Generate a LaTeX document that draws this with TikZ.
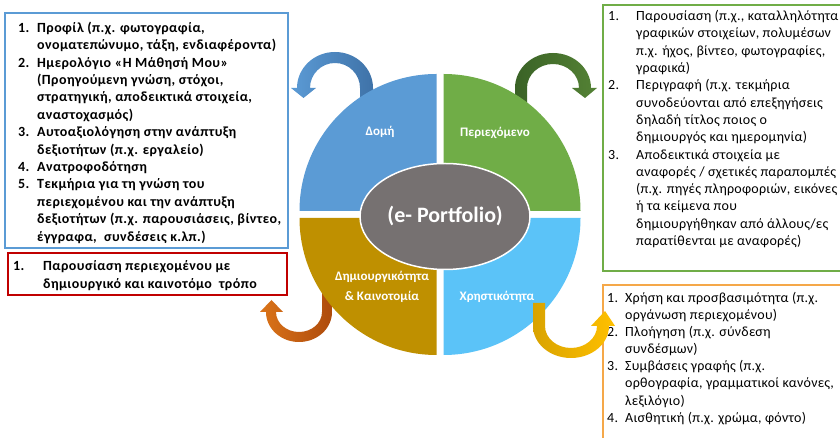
\documentclass[tikz,border=0pt]{standalone}
\usepackage{fontspec}
\setmainfont{Carlito}
\usepackage{array}
\usetikzlibrary{shapes.geometric}
\definecolor{qblue}{HTML}{5B9BD5}
\definecolor{qgreen}{HTML}{70AD47}
\definecolor{qgold}{HTML}{BF9000}
\definecolor{qsky}{HTML}{5BC3F8}
\definecolor{qgray}{HTML}{767171}
\definecolor{bred}{HTML}{C00000}
\definecolor{borange}{HTML}{F5A849}
\definecolor{ablueL}{HTML}{5B9BD5}
\definecolor{ablueD}{HTML}{3F72A8}
\definecolor{agreenL}{HTML}{548235}
\definecolor{agreenD}{HTML}{3A6226}
\definecolor{aorangeL}{HTML}{DB7419}
\definecolor{aorangeD}{HTML}{AE4B0C}
\definecolor{ayellowL}{HTML}{FFC000}
\definecolor{ayellowD}{HTML}{D9A300}
\tikzset{
  infobox/.style={draw, line width=1.6pt, fill=white},
  lst/.style={anchor=north west, inner sep=0pt, align=left},
  boldlist/.style={font=\bfseries\fontsize{14}{17.4}\selectfont\addfontfeature{LetterSpace=3}},
  plainlist/.style={font=\fontsize{14}{#1}\selectfont\addfontfeature{LetterSpace=1.8}},
  qlabel/.style={text=white, font=\bfseries\fontsize{13}{20}\selectfont, align=center, inner sep=0pt},
}
\begin{document}
\begin{tikzpicture}[x=1pt,y=1pt]
\useasboundingbox (0,0) rectangle (840,438);
\clip (0,0) rectangle (840,438);
\fill[white] (0,0) rectangle (840,438);

% boxes
\draw[infobox, draw=qblue] (5,190) rectangle (288,425);
\draw[infobox, draw=bred] (8,143) rectangle (287,185);
\draw[infobox, draw=qgreen] (603,167) rectangle (850,433);
\draw[infobox, draw=borange] (603,-10) rectangle (850,153);

% left box text
\node[lst, boldlist] (leftlist) at (18,418) {%
\begin{tabular}{@{}p{19pt}@{}l@{}}
1. & Προφίλ (π.χ. φωτογραφία,\\
   & ονοματεπώνυμο, τάξη, ενδιαφέροντα)\\
2. & Ημερολόγιο «Η Μάθησή Μου»\\
   & (Προηγούμενη γνώση, στόχοι,\\
   & στρατηγική, αποδεικτικά στοιχεία,\\
   & αναστοχασμός)\\
3. & Αυτοαξιολόγηση στην ανάπτυξη\\
   & δεξιοτήτων (π.χ. εργαλείο)\\
4. & Ανατροφοδότηση\\
5. & Τεκμήρια για τη γνώση του\\
   & περιεχομένου και την ανάπτυξη\\
   & δεξιοτήτων (π.χ. παρουσιάσεις, βίντεο,\\
   & έγγραφα,\ \ συνδέσεις κ.λπ.)
\end{tabular}};

% red box text
\node[lst, boldlist] (redlist) at (13,179.5) {%
\begin{tabular}{@{}p{30pt}@{}l@{}}
1. & Παρουσίαση περιεχομένου με\\
   & δημιουργικό και καινοτόμο\ \ τρόπο
\end{tabular}};

% green box text
\node[lst, plainlist=17.3] (greenlist) at (608,429.7) {%
\begin{tabular}{@{}p{28pt}@{}l@{}}
1. & Παρουσίαση (π.χ., καταλληλότητα\\
   & γραφικών στοιχείων, πολυμέσων\\
   & π.χ. ήχος, βίντεο, φωτογραφίες,\\
   & γραφικά)\\
2. & Περιγραφή (π.χ. τεκμήρια\\
   & συνοδεύονται από επεξηγήσεις\\
   & δηλαδή τίτλος ποιος ο\\
   & δημιουργός και ημερομηνία)\\
3. & Αποδεικτικά στοιχεία με\\
   & αναφορές / σχετικές παραπομπές\\
   & (π.χ. πηγές πληροφοριών, εικόνες\\
   & ή τα κείμενα που\\
   & δημιουργήθηκαν από άλλους/ες\\
   & παρατίθενται με αναφορές)
\end{tabular}};

% orange box text
\node[lst, plainlist=17.1] (orangelist) at (607,147.7) {%
\begin{tabular}{@{}p{18pt}@{}l@{}}
1. & Χρήση και προσβασιμότητα (π.χ.\\
   & οργάνωση περιεχομένου)\\
2. & Πλοήγηση (π.χ. σύνδεση\\
   & συνδέσμων)\\
3. & Συμβάσεις γραφής (π.χ.\\
   & ορθογραφία, γραμματικοί κανόνες,\\
   & λεξιλόγιο)\\
4. & Αισθητική (π.χ. χρώμα, φόντο)
\end{tabular}};

% curved arrows (behind the circle)
\shade[left color=ablueL, right color=ablueD]
  (373,335) -- (373,350) arc[start angle=0,end angle=180,x radius=38,y radius=36]
  -- (291,350) -- (303.5,340) -- (316,350) -- (310,350)
  arc[start angle=180,end angle=0,x radius=25,y radius=25] -- (360,335) -- cycle;
\shade[left color=agreenD, right color=agreenL]
  (515,330) -- (515,350) arc[start angle=180,end angle=0,x radius=38,y radius=35]
  -- (597,350) -- (585,340) -- (572,350) -- (579,350)
  arc[start angle=0,end angle=180,x radius=26,y radius=24] -- (527,330) -- cycle;
\shade[left color=aorangeL, right color=aorangeD]
  (332,150) -- (332,126) arc[start angle=0,end angle=-180,x radius=33,y radius=30]
  -- (260,126) -- (271.5,138) -- (283,126) -- (276,126)
  arc[start angle=180,end angle=360,x radius=23,y radius=20] -- (322,150) -- cycle;

% quadrants
\fill[qblue] (436.5,227) -- ++(-137,0) arc[start angle=180,end angle=90,radius=137] -- cycle;
\fill[qgreen] (443.5,227) -- ++(137,0) arc[start angle=0,end angle=90,radius=137] -- cycle;
\fill[qgold] (436.5,220) -- ++(-137,0) arc[start angle=180,end angle=270,radius=137] -- cycle;
\fill[qsky] (443.5,220) -- ++(137,0) arc[start angle=0,end angle=-90,radius=137] -- cycle;

% yellow arrow (over box corner)
\shade[left color=ayellowD, right color=ayellowL]
  (533,135) -- (533,112) arc[start angle=180,end angle=360,x radius=38,y radius=32]
  -- (615,112) -- (605,127) -- (591,112) -- (597,112)
  arc[start angle=0,end angle=-180,x radius=26,y radius=22] -- (545,135) -- cycle;

% centre
\node[ellipse, fill=qgray, draw=white, line width=1.5pt, minimum width=170pt, minimum height=106pt, inner sep=0pt,
      text=white, font=\bfseries\fontsize{22}{26}\selectfont] (core) at (445,221.5) {(e- Portfolio)};

% quadrant labels
\node[qlabel] (structure) at (380,306) {Δομή};
\node[qlabel] (content) at (495,305) {Περιεχόμενο};
\node[qlabel] (creativity) at (382,151) {Δημιουργικότητα\\\& Καινοτομία};
\node[qlabel] (usability) at (497,141) {Χρηστικότητα};
\end{tikzpicture}
\end{document}
